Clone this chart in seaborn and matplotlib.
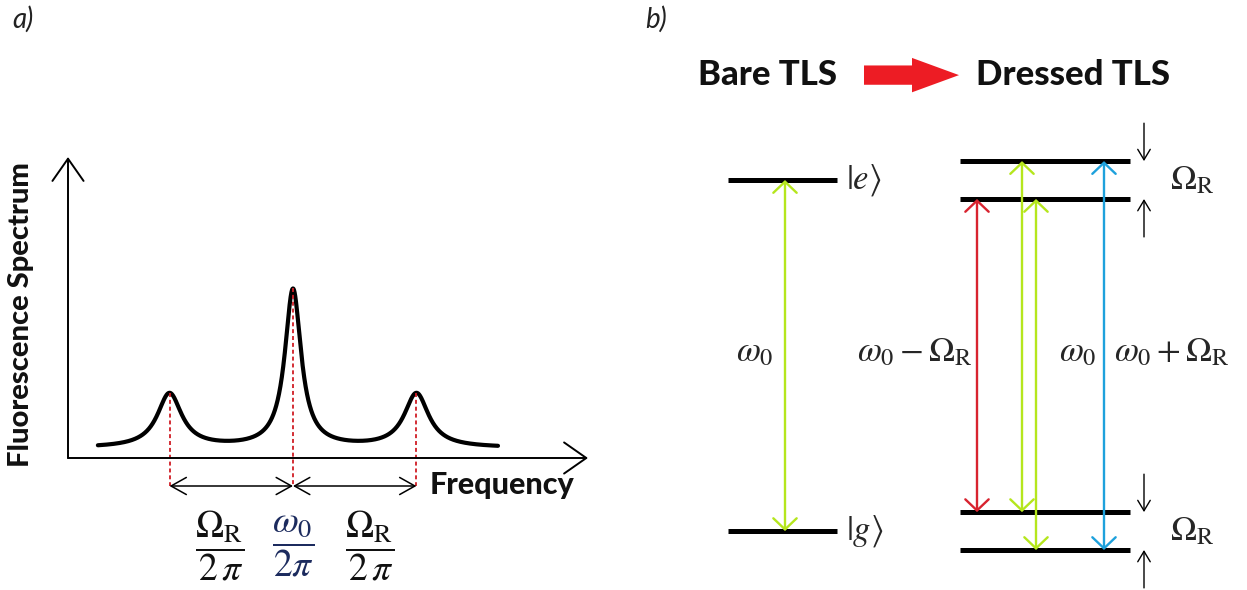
import numpy as np
import pandas as pd
import matplotlib
matplotlib.use("Agg")
import matplotlib.pyplot as plt
import seaborn as sns

# ---------------- data ----------------
# panel a: Mollow triplet (frequency in units of Omega_R, centred on omega_0)
peak_freqs = [-1.0, 0.0, 1.0]
peak_heights = [0.54, 1.58, 0.54]
peak_widths = [0.12, 0.08, 0.12]
background = 0.10
freq_span = [-1.58, 1.66]
fraction_labels = [r"$\dfrac{\Omega_{\mathrm{R}}}{2\,\pi}$",
                   r"$\dfrac{\omega_0}{2\pi}$",
                   r"$\dfrac{\Omega_{\mathrm{R}}}{2\,\pi}$"]
fraction_freqs = [-0.59, 0.0, 0.62]

# panel b: energy levels (units of omega_0)
omega0 = 1.0
rabi = 0.108
bare_names = ["g", "e"]
bare_energy = [0.0, omega0]
dressed_names = ["g-", "g+", "e-", "e+"]
dressed_energy = [-rabi / 2, rabi / 2, omega0 - rabi / 2, omega0 + rabi / 2]
trans_from = ["e-", "e+", "e-", "e+"]
trans_to = ["g+", "g+", "g-", "g-"]
trans_colors = ["#d8232f", "#b5e61d", "#b5e61d", "#1ea1dc"]
trans_labels = [r"$\omega_0 - \Omega_{\mathrm{R}}$", r"$\omega_0$", None,
                r"$\omega_0 + \Omega_{\mathrm{R}}$"]

# ---------------- style ----------------
sns.set_theme(style="white")
plt.rcParams["font.family"] = ["Lato", "DejaVu Sans"]
plt.rcParams["mathtext.fontset"] = "stix"

W, H = 1247, 590
fig = plt.figure(figsize=(W / 100, H / 100), dpi=100)
fig.patch.set_facecolor("white")

# ---------------- panel a ----------------
ax_a = fig.add_axes([68 / W, 1 - 458 / H, (588 - 68) / W, (458 - 157) / H])
freq = np.linspace(freq_span[0], freq_span[1], 2000)
spec = np.full_like(freq, background)
for c, h, w in zip(peak_freqs, peak_heights, peak_widths):
    spec = spec + h * w ** 2 / ((freq - c) ** 2 + w ** 2)
df = pd.DataFrame({"Frequency": freq, "Spectrum": spec})
sns.lineplot(data=df, x="Frequency", y="Spectrum", ax=ax_a, color="black",
             lw=3.0, legend=False)
ax_a.set_xlim(-1.822, 2.389)
ax_a.set_ylim(0, 3.01)
ax_a.axis("off")

axis_arrow = dict(arrowstyle="->,head_length=0.4,head_width=0.28", lw=1.4,
                  color="black", mutation_scale=40, shrinkA=0, shrinkB=0)
ax_a.annotate("", xy=(1, 0), xytext=(0, 0), xycoords="axes fraction",
              arrowprops=axis_arrow)
ax_a.annotate("", xy=(0, 1), xytext=(0, 0), xycoords="axes fraction",
              arrowprops=axis_arrow)

y_bracket = -0.28
for c in peak_freqs:
    top = np.interp(c, freq, spec)
    ax_a.plot([c, c], [top, y_bracket], color="#d01c24", lw=1.3,
              ls=(0, (2.2, 1.6)), clip_on=False)
for a, b in zip(peak_freqs[:-1], peak_freqs[1:]):
    ax_a.annotate("", xy=(b, y_bracket), xytext=(a, y_bracket),
                  arrowprops=dict(arrowstyle="<->,head_length=0.5,head_width=0.28",
                                  lw=1.1, color="black", mutation_scale=22,
                                  shrinkA=0, shrinkB=0),
                  annotation_clip=False)

ax_a.text(1.109, -0.27, "Frequency", fontsize=22, fontweight="black",
          ha="left", va="center", color="#111111")
frac_colors = ["#111111", "#1c2b5e", "#111111"]
for f, lab, col in zip(fraction_freqs, fraction_labels, frac_colors):
    ax_a.text(f, -0.88, lab, fontsize=27, ha="center", va="center", color=col)

fig.text(21 / W, 1 - 315 / H, "Fluorescence Spectrum", rotation=90,
         fontsize=21, fontweight="black", ha="center", va="center",
         color="#111111")
fig.text(12 / W, 1 - 19 / H, "a)", fontsize=20, fontstyle="italic",
         ha="left", va="center", color="#222222")
fig.text(645 / W, 1 - 19 / H, "b)", fontsize=20, fontstyle="italic",
         ha="left", va="center", color="#222222")

# ---------------- panel b ----------------
ax_b = fig.add_axes([620 / W, 0, 627 / W, 1])
ax_b.set_xlim(0, 627)
ax_b.set_ylim(-0.168, 1.513)
ax_b.axis("off")

bare_x = (108, 217)
dressed_x = (340, 510)
bare = dict(zip(bare_names, bare_energy))
dressed = dict(zip(dressed_names, dressed_energy))

ax_b.hlines(bare_energy, bare_x[0], bare_x[1], color="black", lw=3.6)
ax_b.hlines(dressed_energy, dressed_x[0], dressed_x[1], color="black", lw=3.6)

trans_arrow = "<->,head_length=0.4,head_width=0.42"
ax_b.annotate("", xy=(165, bare["g"]), xytext=(165, bare["e"]),
              arrowprops=dict(arrowstyle=trans_arrow, color="#b5e61d", lw=1.7,
                              mutation_scale=20, shrinkA=0, shrinkB=0))
ax_b.text(135, 0.51, r"$\omega_0$", fontsize=25, ha="center", va="center")

trans_x = [357, 402, 416, 484]
label_x = [295, 458, None, 552]
for fr, to, col, lab, x, lx in zip(trans_from, trans_to, trans_colors,
                                    trans_labels, trans_x, label_x):
    ax_b.annotate("", xy=(x, dressed[to]), xytext=(x, dressed[fr]),
                  arrowprops=dict(arrowstyle=trans_arrow, color=col, lw=1.7,
                                  mutation_scale=20, shrinkA=0, shrinkB=0))
    if lab is not None:
        ax_b.text(lx, 0.51, lab, fontsize=25, ha="center", va="center")

ax_b.text(226, bare["e"], r"$|e\rangle$", fontsize=25, ha="left", va="center")
ax_b.text(226, bare["g"], r"$|g\rangle$", fontsize=25, ha="left", va="center")

small = dict(arrowstyle="->,head_length=0.5,head_width=0.3", color="black",
             lw=1.0, mutation_scale=15, shrinkA=0, shrinkB=0)
for lo, hi in [("e-", "e+"), ("g-", "g+")]:
    ax_b.annotate("", xy=(524, dressed[hi]), xytext=(524, dressed[hi] + rabi),
                  arrowprops=small)
    ax_b.annotate("", xy=(524, dressed[lo]), xytext=(524, dressed[lo] - rabi),
                  arrowprops=small)
    ax_b.text(550, (dressed[lo] + dressed[hi]) / 2, r"$\Omega_{\mathrm{R}}$",
              fontsize=25, ha="left", va="center")

title_E = 1.299
ax_b.text(147, title_E, "Bare TLS", fontsize=25, fontweight="black",
          ha="center", va="center", color="#111111")
ax_b.text(453, title_E, "Dressed TLS", fontsize=25, fontweight="black",
          ha="center", va="center", color="#111111")
ax_b.arrow(244, title_E, 95, 0, width=0.055, head_width=0.098,
           head_length=47, length_includes_head=True, color="#ed1c24", lw=0)

fig.savefig("out.png", dpi=100, facecolor="white")
